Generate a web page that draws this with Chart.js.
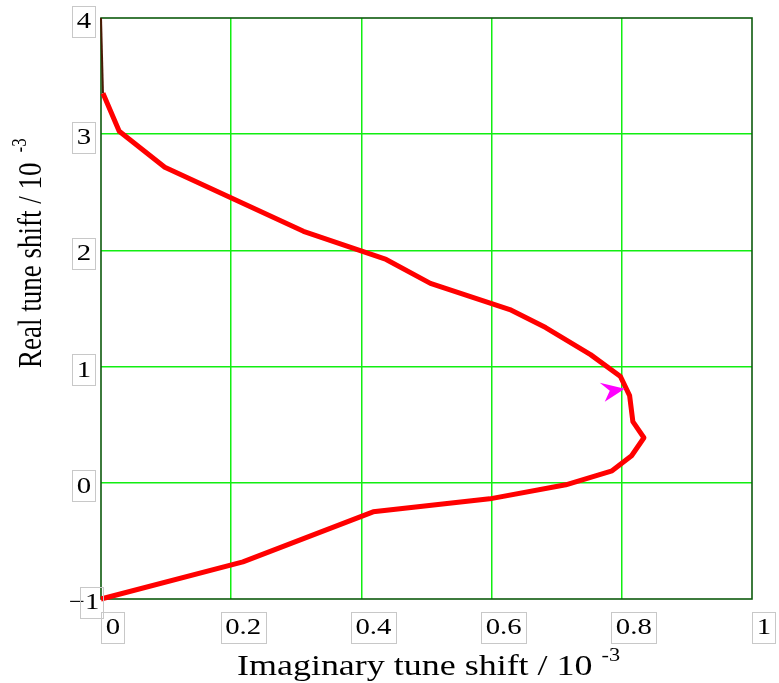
<!DOCTYPE html>
<html>
<head>
<meta charset="utf-8">
<script src="https://cdn.jsdelivr.net/npm/chart.js@4/dist/chart.umd.min.js"></script>
<style>
  html, body { margin: 0; padding: 0; background: #ffffff; }
  #wrap { width: 779px; height: 683px; }
</style>
</head>
<body>
<div id="wrap"><canvas id="c" width="779" height="683"></canvas></div>
<script>
// Tune-shift trajectory: imaginary part (x) against real part (y), units of 1e-3
const imagShift = [0, 0.218, 0.418, 0.597, 0.714, 0.785, 0.815, 0.834, 0.817, 0.812, 0.798, 0.752, 0.683, 0.628, 0.506, 0.438, 0.311, 0.098, 0.028, 0.003];
const realShift = [-1, -0.681, -0.25, -0.138, -0.017, 0.103, 0.233, 0.388, 0.526, 0.75, 0.914, 1.103, 1.336, 1.491, 1.716, 1.922, 2.164, 2.716, 3.026, 3.353];

// Continuation of the trajectory along the left edge
const edgeImag = [0.003, 0];
const edgeReal = [3.353, 4];

// Direction marker position (arrow tip)
const arrowImag = [0.803];
const arrowReal = [0.81];

const xTicks = [0, 0.2, 0.4, 0.6, 0.8, 1];
const xTickLabels = ['0', '0.2', '0.4', '0.6', '0.8', '1'];
const yTicks = [-1, 0, 1, 2, 3, 4];
const yTickLabels = ['\u22121', '0', '1', '2', '3', '4'];

const xTitle = 'Imaginary tune shift / 10';
const yTitle = 'Real tune shift / 10';
const titleExp = '-3';

const SERIF = '"Liberation Serif", "Times New Roman", serif';

function toPoints(xs, ys) {
  return xs.map((x, i) => ({ x: x, y: ys[i] }));
}

// Draw text horizontally stretched by sx
function wideText(ctx, str, x, y, size, sx, align, baseline) {
  ctx.save();
  ctx.font = size + 'px ' + SERIF;
  ctx.translate(x, y);
  ctx.scale(sx, 1);
  ctx.textAlign = align;
  ctx.textBaseline = baseline;
  ctx.fillText(str, 0, 0);
  const w = ctx.measureText(str).width * sx;
  ctx.restore();
  return w;
}

function measure(ctx, str, size, sx) {
  ctx.save();
  ctx.font = size + 'px ' + SERIF;
  const w = ctx.measureText(str).width * sx;
  ctx.restore();
  return w;
}

const TICK_SIZE = 23, TICK_SX = 1.25, BOX_PAD = 4.5, BOX_H = 31;

function boxedLabel(ctx, label, cx, cy) {
  const full = measure(ctx, label, TICK_SIZE, TICK_SX);
  const numPart = label.replace('\u2212', '');
  const numW = measure(ctx, numPart, TICK_SIZE, TICK_SX);
  ctx.fillStyle = '#000000';
  wideText(ctx, label, cx, cy + 1, TICK_SIZE, TICK_SX, 'center', 'middle');
  const right = cx + full / 2 + BOX_PAD;
  const left = cx + full / 2 - numW - BOX_PAD;
  ctx.save();
  ctx.strokeStyle = '#c8c8c8';
  ctx.lineWidth = 1;
  ctx.strokeRect(Math.round(left) + 0.5, Math.round(cy - BOX_H / 2) + 0.5, Math.round(right - left), BOX_H);
  ctx.restore();
}

const decorPlugin = {
  id: 'decor',
  beforeDatasetsDraw(chart) {
    const { ctx, chartArea: a } = chart;
    ctx.save();
    ctx.strokeStyle = '#0d5a0d';
    ctx.lineWidth = 1.6;
    ctx.strokeRect(a.left, a.top, a.right - a.left, a.bottom - a.top);
    ctx.restore();
  },
  afterDatasetsDraw(chart) {
    const { ctx } = chart;
    const xs = chart.scales.x, ys = chart.scales.y;

    // direction arrow
    arrowImag.forEach((v, i) => {
      const tx = xs.getPixelForValue(v);
      const ty = ys.getPixelForValue(arrowReal[i]);
      ctx.save();
      ctx.fillStyle = '#ff00ff';
      ctx.beginPath();
      ctx.moveTo(tx + 1, ty);
      ctx.lineTo(tx - 24, ty - 6);
      ctx.lineTo(tx - 14, ty + 2);
      ctx.lineTo(tx - 19, ty + 13);
      ctx.closePath();
      ctx.fill();
      ctx.restore();
    });

    // tick labels in boxes
    xTicks.forEach((v, i) => {
      boxedLabel(ctx, xTickLabels[i], xs.getPixelForValue(v) + 12, 627);
    });
    yTicks.forEach((v, i) => {
      boxedLabel(ctx, yTickLabels[i], 84, ys.getPixelForValue(v) + 3);
    });

    // x title with exponent
    ctx.fillStyle = '#000000';
    const xw = wideText(ctx, xTitle, 237, 675, 29, 1.24, 'left', 'alphabetic');
    wideText(ctx, titleExp, 237 + xw + 9, 661, 18, 1.24, 'left', 'alphabetic');

    // y title, rotated, with exponent
    ctx.save();
    ctx.translate(41, 368);
    ctx.rotate(-Math.PI / 2);
    ctx.scale(1, 1.22);
    ctx.font = '27px ' + SERIF;
    ctx.textAlign = 'left';
    ctx.textBaseline = 'alphabetic';
    ctx.fillText(yTitle, 0, 0);
    const yw = ctx.measureText(yTitle).width;
    ctx.font = '17px ' + SERIF;
    ctx.fillText(titleExp, yw + 10, -12);
    ctx.restore();
  }
};

const GRID_GREEN = '#11ee11';
const yGridColor = (ctx) => {
  const v = ctx.tick ? ctx.tick.value : null;
  return (v === -1 || v === 4) ? 'rgba(0,0,0,0)' : GRID_GREEN;
};
const xGridColor = (ctx) => {
  const v = ctx.tick ? ctx.tick.value : null;
  return (Math.abs(v) < 1e-9 || Math.abs(v - 1) < 1e-9) ? 'rgba(0,0,0,0)' : GRID_GREEN;
};

new Chart(document.getElementById('c'), {
  type: 'scatter',
  data: {
    datasets: [
      {
        data: toPoints(imagShift, realShift),
        showLine: true,
        borderColor: '#ff0000',
        backgroundColor: '#ff0000',
        borderWidth: 5,
        pointRadius: 0,
        tension: 0,
        borderJoinStyle: 'round',
        clip: 6
      },
      {
        data: toPoints(edgeImag, edgeReal),
        showLine: true,
        borderColor: '#4a1a05',
        borderWidth: 2,
        pointRadius: 0,
        clip: 2
      }
    ]
  },
  options: {
    responsive: false,
    animation: false,
    devicePixelRatio: 1,
    layout: { padding: { top: 18, right: 27, left: 0, bottom: 0 } },
    plugins: { legend: { display: false }, tooltip: { enabled: false } },
    events: [],
    scales: {
      x: {
        type: 'linear',
        min: 0,
        max: 1,
        ticks: { display: false, stepSize: 0.2 },
        grid: { color: xGridColor, lineWidth: 1.5, drawTicks: false },
        border: { display: false },
        afterFit(s) { s.height = 84; }
      },
      y: {
        type: 'linear',
        min: -1,
        max: 4,
        ticks: { display: false, stepSize: 1 },
        grid: { color: yGridColor, lineWidth: 1.5, drawTicks: false },
        border: { display: false },
        afterFit(s) { s.width = 101; }
      }
    }
  },
  plugins: [decorPlugin]
});
</script>
</body>
</html>
